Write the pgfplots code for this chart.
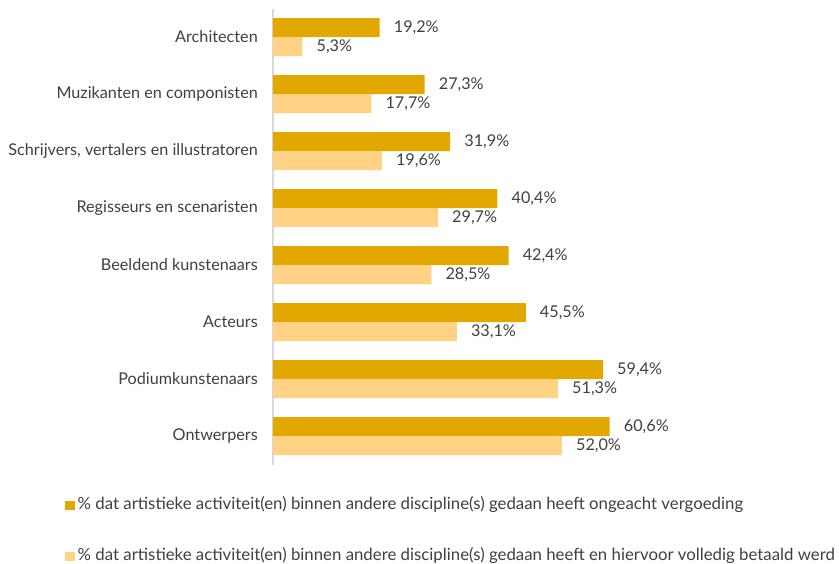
\documentclass[border=0pt]{standalone}
\usepackage{fontspec}
\setmainfont{Lato}
\usepackage{pgfplots}
\pgfplotsset{compat=1.18}
\definecolor{darkgold}{HTML}{E3A800}
\definecolor{lightgold}{HTML}{FFD285}
\definecolor{txt}{HTML}{404040}
\newcommand{\lblfont}{\fontsize{16.2bp}{19bp}\selectfont}
\newcommand{\legfont}{\fontsize{16.8bp}{19bp}\selectfont}
\begin{document}
\begin{tikzpicture}
\begin{axis}[
  at={(0,0)}, anchor=south west,
  scale only axis, width=555.6bp, height=456bp,
  xmin=0, xmax=100, ymin=-0.5, ymax=7.5, y dir=reverse,
  /pgf/number format/assume math mode=true,
  xbar, bar width=19bp,
  axis y line*=left, axis x line=none,
  y axis line style={draw=black!15, line width=1.6bp},
  ytick={0,...,7},
  yticklabels={Architecten, Muzikanten en componisten, {Schrijvers, vertalers en illustratoren}, Regisseurs en scenaristen, Beeldend kunstenaars, Acteurs, Podiumkunstenaars, Ontwerpers},
  major tick length=0pt,
  yticklabel style={font=\lblfont, text=txt, inner sep=0pt, xshift=-15bp},
  xtick=\empty,
  nodes near coords={\pgfmathprintnumber[fixed, fixed zerofill, precision=1, use comma, assume math mode=true]{\pgfplotspointmeta}\%},
  every node near coord/.append style={font=\lblfont, text=txt, anchor=west, inner sep=0pt, xshift=14bp},
  legend style={at={(-0.3744,-0.146)}, anchor=west, draw=none, fill=none, inner sep=0pt, row sep=38bp,
    cells={anchor=west}, nodes={inner xsep=3bp, inner ysep=0pt, text height=10bp, text depth=3bp, font=\legfont, text=txt}},
  legend cell align=left,
  legend image code/.code={\fill[#1] (0bp,-4.5bp) rectangle (9.5bp,4.5bp);},
]
\addplot[fill=darkgold, draw=none, bar shift=9.5bp] coordinates {
  (19.2,0) (27.3,1) (31.9,2) (40.4,3) (42.4,4) (45.5,5) (59.4,6) (60.6,7)};
\addplot[fill=lightgold, draw=none, bar shift=-9.5bp] coordinates {
  (5.3,0) (17.7,1) (19.6,2) (29.7,3) (28.5,4) (33.1,5) (51.3,6) (52.0,7)};
\legend{\% dat artistieke activiteit(en) binnen andere discipline(s) gedaan heeft ongeacht vergoeding,
  \% dat artistieke activiteit(en) binnen andere discipline(s) gedaan heeft en hiervoor volledig betaald werd}
\end{axis}
\pgfresetboundingbox
\path[use as bounding box] (-273bp,-99.5bp) rectangle (566bp,464.5bp);
\end{tikzpicture}
\end{document}
